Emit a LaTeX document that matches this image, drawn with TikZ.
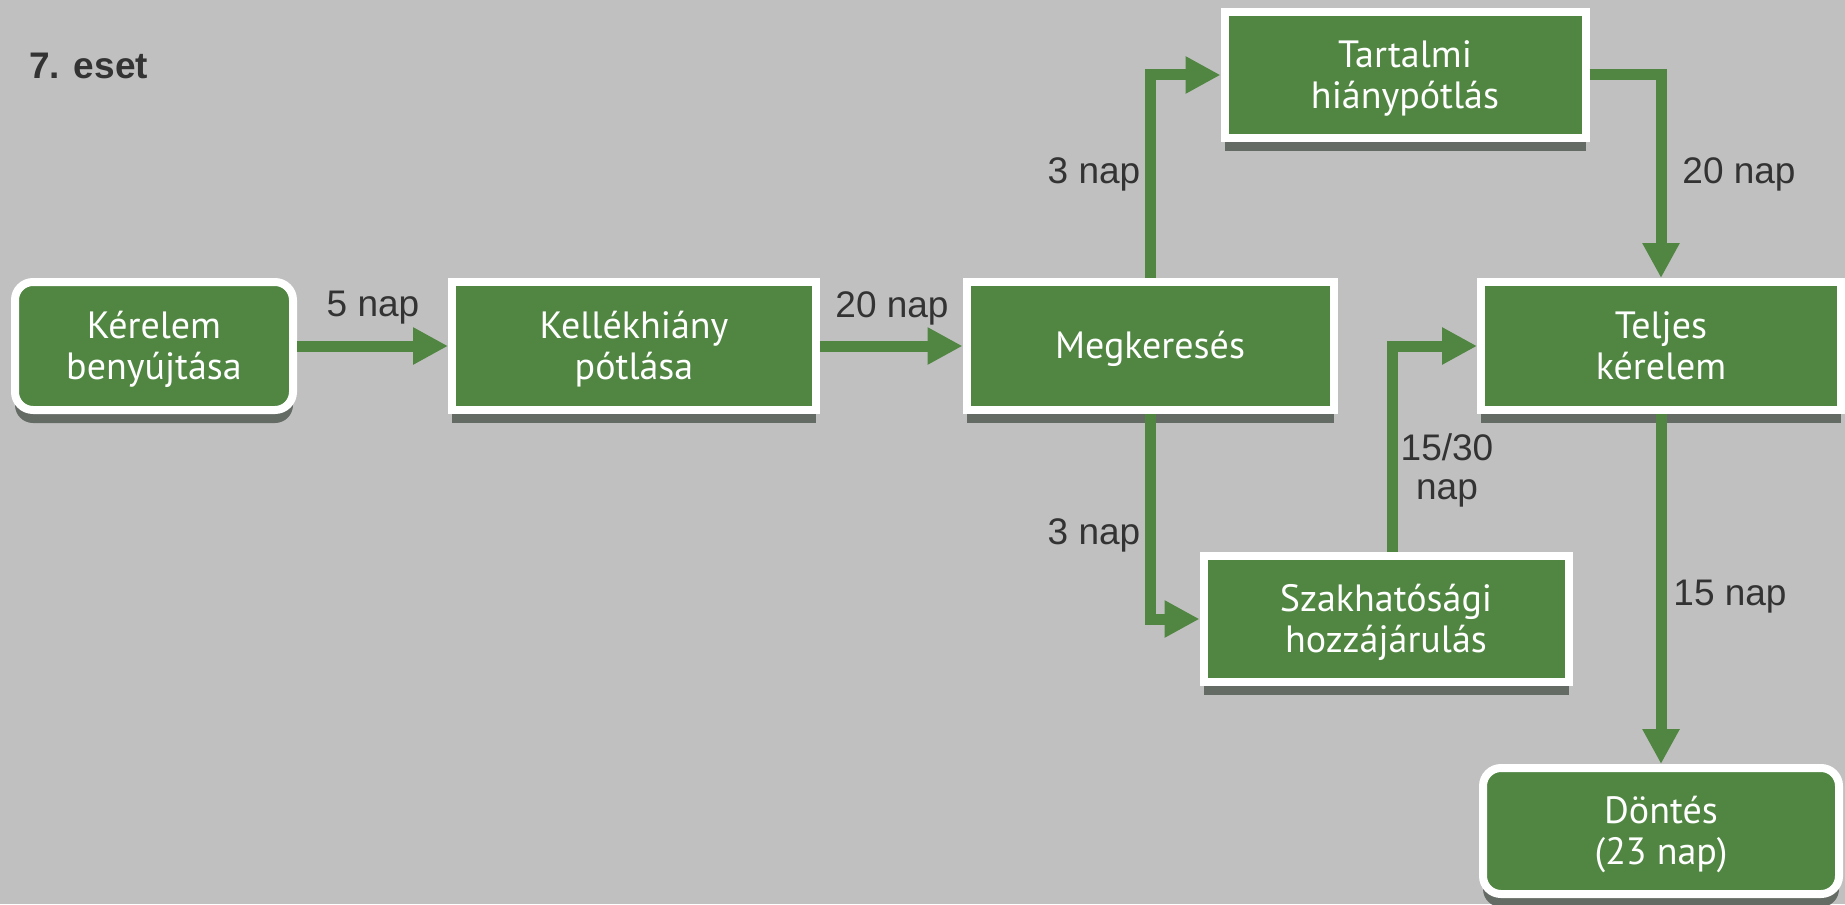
\documentclass[tikz,border=0pt]{standalone}
\usepackage{fontspec}
\setmainfont{Liberation Sans}
\newfontfamily\boxfont{PT Sans}
\usetikzlibrary{arrows.meta,shadows}
\definecolor{bg}{RGB}{192,192,192}
\definecolor{boxgreen}{RGB}{80,134,66}
\definecolor{labelgray}{RGB}{51,51,51}
\definecolor{shadowc}{RGB}{100,106,100}
\newcommand{\boxtxt}[1]{\raisebox{-2.2pt}[\height][\depth]{\begin{tabular}{@{}c@{}}#1\end{tabular}}}
\begin{document}
\begin{tikzpicture}[x=0.5pt,y=-0.5pt,
  stepbox/.style={draw=white, line width=4pt, fill=boxgreen, text=white,
    font=\boxfont\fontsize{19}{20.5}\selectfont, align=center, inner sep=0pt,
    general shadow={shadow yshift=-6.5pt, fill=shadowc}},
  roundbox/.style={stepbox, rounded corners=9pt},
  arr/.style={draw=boxgreen, line width=5.5pt, line join=miter,
    -{Triangle[length=17.5pt,width=17.5pt]}},
  lbl/.style={text=labelgray, font=\fontsize{18.5}{19.5}\selectfont, align=center, inner sep=0pt}]
\fill[bg] (0,0) rectangle (1845,904);
\useasboundingbox (0,0) rectangle (1845,904);

\node[lbl, anchor=west, font=\bfseries\fontsize{18.5}{21}\selectfont] (title) at (29,66) {7. eset};

\node[roundbox, minimum width=139pt, minimum height=64pt] (kerelem) at (154,346) {\boxtxt{Kérelem\\benyújtása}};
\node[stepbox, minimum width=182pt, minimum height=64pt] (kellek) at (634,346) {\boxtxt{Kellékhiány\\pótlása}};
\node[stepbox, minimum width=183.5pt, minimum height=64pt] (megk) at (1150,346) {\boxtxt{Megkeresés}};
\node[stepbox, minimum width=180.5pt, minimum height=63pt] (tart) at (1405,75) {\boxtxt{Tartalmi\\hiánypótlás}};
\node[stepbox, minimum width=180pt, minimum height=64pt] (teljes) at (1661,346) {\boxtxt{Teljes\\kérelem}};
\node[stepbox, minimum width=182.5pt, minimum height=63pt] (szak) at (1386,619) {\boxtxt{Szakhatósági\\hozzájárulás}};
\node[roundbox, minimum width=178pt, minimum height=63pt] (dontes) at (1661,831) {\boxtxt{Döntés\\(23 nap)}};

\draw[arr] (kerelem) -- (kellek);
\draw[arr] (kellek) -- (megk);
\draw[arr] (megk.north) |- (tart.west);
\draw[arr] (megk.south) |- (szak.west);
\draw[arr] (tart.east) -| (teljes.north);
\draw[arr] ([xshift=3pt]szak.north) |- (teljes.west);
\draw[arr] (teljes) -- (dontes);

\node[lbl] (l1) at (373,308) {5 nap};
\node[lbl] (l2) at (892,308) {20 nap};
\node[lbl] (l3) at (1094,174) {3 nap};
\node[lbl] (l4) at (1739,174) {20 nap};
\node[lbl] (l5) at (1447,470) {15/30\\nap};
\node[lbl] (l6) at (1094,535) {3 nap};
\node[lbl] (l7) at (1730,597) {15 nap};
\end{tikzpicture}
\end{document}
